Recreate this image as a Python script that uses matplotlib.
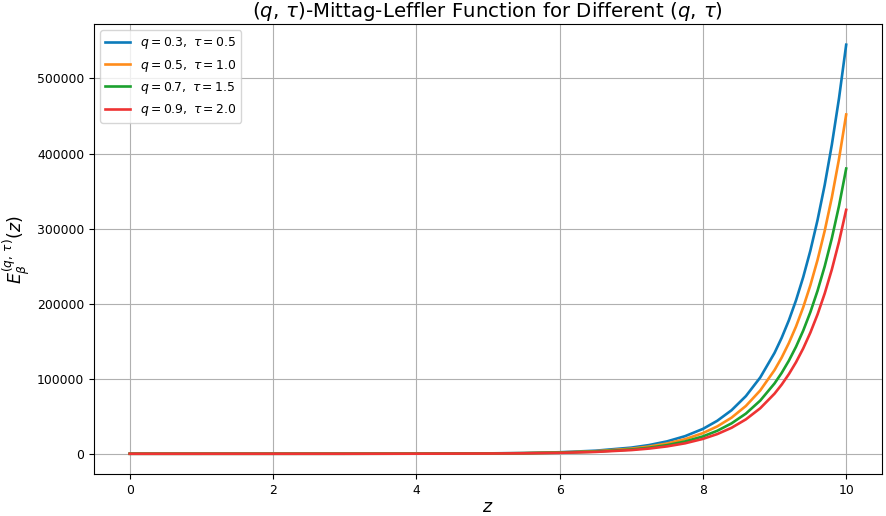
import matplotlib
matplotlib.use("Agg")
import matplotlib.pyplot as plt

# z sample points (denser near the steep end)
z = [0, 1, 2, 3, 4, 5, 5.5, 6, 6.5, 7, 7.25, 7.5, 7.75, 8,
     8.2, 8.4, 8.6, 8.8, 9, 9.1, 9.2, 9.3, 9.4, 9.5, 9.6, 9.7, 9.8, 9.9, 10]

# values
e_q03 = [1, 2, 8, 30, 120, 500, 1000, 2020, 4060, 8180, 11600, 16500, 23400, 33100,
         43900, 58000, 76800, 101600, 134400, 154600, 177800, 204500, 235300,
         270600, 311300, 358100, 411900, 473800, 545000]
e_q05 = [1, 2, 6, 25, 100, 410, 830, 1680, 3370, 6780, 9630, 13650, 19400, 27500,
         36400, 48100, 63700, 84300, 111500, 128200, 147500, 169600, 195100,
         224500, 258200, 297000, 341600, 393000, 452000]
e_q07 = [1, 2, 5, 21, 85, 350, 700, 1410, 2830, 5700, 8090, 11480, 16300, 23100,
         30600, 40500, 53500, 70800, 93700, 107800, 124000, 142600, 164000,
         188700, 217100, 249700, 287200, 330400, 380000]
e_q09 = [1, 1, 4, 18, 73, 300, 600, 1200, 2420, 4880, 6920, 9820, 13900, 19800,
         26200, 34600, 45800, 60600, 80100, 92200, 106100, 122000, 140300,
         161400, 185600, 213500, 245600, 282600, 325000]

labels = [r"$q = 0.3,\ \tau = 0.5$", r"$q = 0.5,\ \tau = 1.0$",
          r"$q = 0.7,\ \tau = 1.5$", r"$q = 0.9,\ \tau = 2.0$"]
colors = ["#0C7BBA", "#FF8C1A", "#1BA12E", "#EE3333"]

fig = plt.figure(figsize=(8.86, 5.16), dpi=100)
ax = fig.add_axes([0.106, 0.081, 0.8895, 0.872])

for vals, lab, col in zip([e_q03, e_q05, e_q07, e_q09], labels, colors):
    ax.plot(z, vals, color=col, lw=1.9, label=lab)

ax.set_title(r"$(q,\,\tau)$-Mittag-Leffler Function for Different $(q,\,\tau)$",
             fontsize=14.2, pad=5)
ax.set_xlabel(r"$z$", fontsize=12.5, labelpad=0.5)
ax.set_ylabel(r"$E_{\beta}^{(q,\,\tau)}(z)$", fontsize=12.5, labelpad=3)
ax.tick_params(labelsize=8.9)
ax.grid(True)
ax.legend(loc="upper left", fontsize=8.9)

fig.savefig("out.png", dpi=100)
